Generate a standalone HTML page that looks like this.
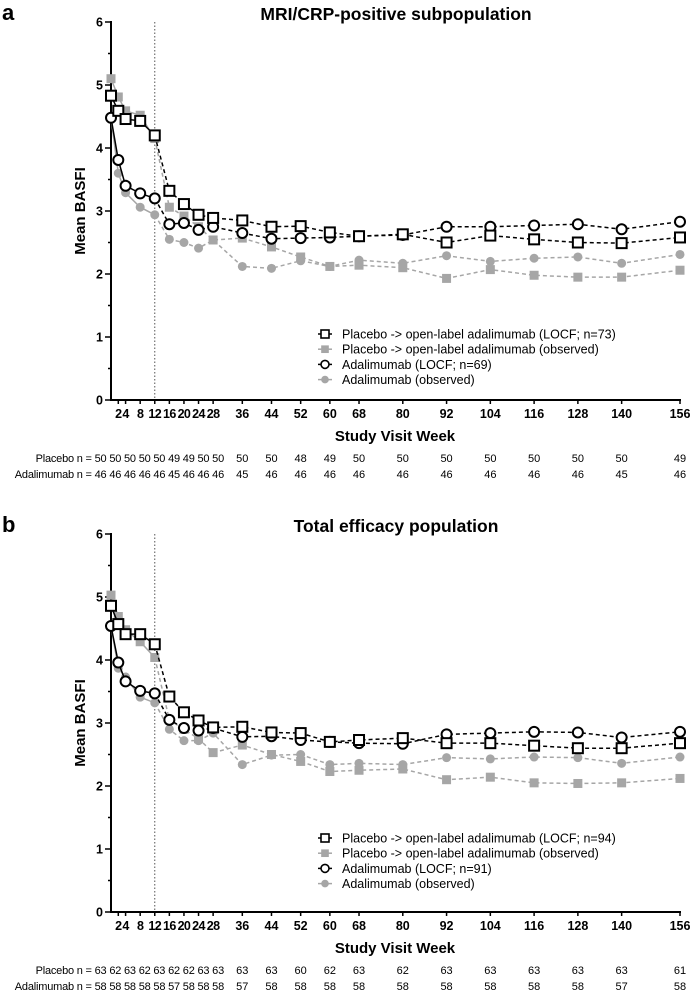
<!DOCTYPE html>
<html><head><meta charset="utf-8">
<style>
html,body{margin:0;padding:0;background:#fff;}
svg{display:block;font-family:"Liberation Sans",Arial,sans-serif;}
</style></head>
<body>
<svg id="chart" width="692" height="992" viewBox="0 0 692 992" xmlns="http://www.w3.org/2000/svg"></svg>
<script>
const weeks = [0,2,4,8,12,16,20,24,28,36,44,52,60,68,80,92,104,116,128,140,156];
const tickLabels = ["2","4","8","12","16","20","24","28","36","44","52","60","68","80","92","104","116","128","140","156"];
const tickWeeks = [2,4,8,12,16,20,24,28,36,44,52,60,68,80,92,104,116,128,140,156];
const yTicks = [0,1,2,3,4,5,6];

// Panel a
const aPlaceboLocf = [4.83,4.59,4.46,4.43,4.2,3.32,3.11,2.94,2.89,2.85,2.75,2.76,2.66,2.6,2.63,2.5,2.61,2.55,2.5,2.49,2.58];
const aPlaceboObs = [5.1,4.81,4.59,4.52,4.15,3.06,2.92,2.75,2.54,2.57,2.43,2.27,2.12,2.14,2.1,1.93,2.07,1.98,1.95,1.95,2.06];
const aAdaLocf = [4.48,3.81,3.4,3.28,3.2,2.79,2.81,2.7,2.75,2.65,2.56,2.57,2.58,2.6,2.62,2.75,2.75,2.77,2.79,2.71,2.83];
const aAdaObs = [4.48,3.6,3.29,3.06,2.94,2.55,2.5,2.41,2.54,2.12,2.09,2.21,2.12,2.22,2.17,2.29,2.2,2.25,2.27,2.17,2.31];
const aPlaceboN = [50,50,50,50,50,49,49,50,50,50,50,48,49,50,50,50,50,50,50,50,49];
const aAdaN = [46,46,46,46,46,45,46,46,46,45,46,46,46,46,46,46,46,46,46,45,46];

// Panel b
const bPlaceboLocf = [4.86,4.57,4.41,4.41,4.25,3.42,3.17,3.04,2.93,2.94,2.85,2.84,2.7,2.73,2.76,2.68,2.68,2.64,2.6,2.6,2.68];
const bPlaceboObs = [5.03,4.69,4.48,4.29,4.04,3.05,2.9,2.75,2.53,2.65,2.5,2.39,2.23,2.25,2.27,2.1,2.14,2.05,2.04,2.05,2.12];
const bAdaLocf = [4.54,3.96,3.66,3.51,3.47,3.05,2.92,2.88,2.92,2.78,2.79,2.73,2.7,2.68,2.67,2.82,2.84,2.86,2.85,2.77,2.86];
const bAdaObs = [4.54,3.87,3.73,3.41,3.32,2.9,2.72,2.72,2.84,2.34,2.49,2.5,2.34,2.36,2.34,2.45,2.43,2.46,2.45,2.36,2.46];
const bPlaceboN = [63,62,63,62,63,62,62,63,63,63,63,60,62,63,62,63,63,63,63,63,61];
const bAdaN = [58,58,58,58,58,57,58,58,58,57,58,58,58,58,58,58,58,58,58,57,58];

const NS = "http://www.w3.org/2000/svg";
const svg = document.getElementById('chart');
const GRAY = "#a6a6a6";
function mk(tag, attrs, parent, text){
  const e = document.createElementNS(NS, tag);
  for (const k in attrs) e.setAttribute(k, attrs[k]);
  if (text !== undefined) e.textContent = text;
  (parent || svg).appendChild(e);
  return e;
}
const xScale = w => 111 + w * (569 / 156);

function drawMarker(g, type, x, y){
  let m;
  if (type === 'sq') m = mk('rect',{x:x-5,y:y-5,width:10,height:10,fill:'#fff',stroke:'#000','stroke-width':2},g);
  else if (type === 'gsq') m = mk('rect',{x:x-4.5,y:y-4.5,width:9,height:9,fill:GRAY},g);
  else if (type === 'ci') m = mk('circle',{cx:x,cy:y,r:5,fill:'#fff',stroke:'#000','stroke-width':2},g);
  else m = mk('circle',{cx:x,cy:y,r:4.5,fill:GRAY},g);
  return m;
}

function drawPanel(cfg){
  const y0 = cfg.y0, unit = 63;
  const yScale = v => y0 - v * unit;
  const g = mk('g',{});
  
  

  const lbl = mk('text',{x:2,y:y0-380,'font-size':22,'font-weight':'bold'},g,cfg.letter);
  
  
  const tt = mk('text',{x:396,y:y0-380,'font-size':17.5,'font-weight':'bold','text-anchor':'middle'},g,cfg.title);
  
  

  const dl = mk('line',{x1:xScale(12),x2:xScale(12),y1:yScale(6),y2:y0,stroke:'#555','stroke-width':1,'stroke-dasharray':'1.5,2'},g);
  
  

  const ya = mk('g',{},g);
  
  
  mk('line',{x1:111,x2:111,y1:yScale(6)-1,y2:y0+1,stroke:'#000','stroke-width':2},ya);
  for (let v=0; v<=6; v+=0.5){
    const major = Number.isInteger(v);
    mk('line',{x1:major?105:108,x2:111,y1:yScale(v),y2:yScale(v),stroke:'#000','stroke-width':1.5},ya);
  }
  yTicks.forEach(v=>{
    const t = mk('text',{x:103,y:yScale(v)+4.5,'font-size':12.5,'font-weight':'bold','text-anchor':'end'},ya,String(v));
    
    
  });
  const yt = mk('text',{transform:`translate(85,${yScale(3)}) rotate(-90)`,'font-size':15,'font-weight':'bold','text-anchor':'middle'},g,'Mean BASFI');
  
  

  const xa = mk('g',{},g);
  
  
  mk('line',{x1:110,x2:xScale(156)+1,y1:y0,y2:y0,stroke:'#000','stroke-width':2},xa);
  tickWeeks.forEach((w,i)=>{
    mk('line',{x1:xScale(w),x2:xScale(w),y1:y0,y2:y0+4,stroke:'#000','stroke-width':1.5},xa);
    const t = mk('text',{x:xScale(w),y:y0+18,'font-size':12.5,'font-weight':'bold','text-anchor':'middle','letter-spacing':w<36?'-0.6':'0'},xa,tickLabels[i]);
    
    
  });
  const xt = mk('text',{x:395,y:y0+41,'font-size':15,'font-weight':'bold','text-anchor':'middle'},g,'Study Visit Week');
  
  

  const series = [
    {d:cfg.pObs, m:'gsq', c:GRAY, name:'series-placebo-observed'},
    {d:cfg.aObs, m:'gci', c:GRAY, name:'series-adalimumab-observed'},
    {d:cfg.aLocf, m:'ci', c:'#000', name:'series-adalimumab-locf'},
    {d:cfg.pLocf, m:'sq', c:'#000', name:'series-placebo-locf'}
  ];
  series.forEach(s=>{
    const sg = mk('g',{},g);
    
    
    let solid = '', dash = '';
    weeks.forEach((w,i)=>{
      const x = xScale(w), y = yScale(s.d[i]);
      if (w <= 12) solid += (solid ? 'L' : 'M') + x + ',' + y;
      if (w >= 12) dash += (dash ? 'L' : 'M') + x + ',' + y;
    });
    mk('path',{d:solid,fill:'none',stroke:s.c,'stroke-width':1.5},sg);
    mk('path',{d:dash,fill:'none',stroke:s.c,'stroke-width':1.5,'stroke-dasharray':'4,3'},sg);
    weeks.forEach((w,i)=>{
      const m = drawMarker(sg, s.m, xScale(w), yScale(s.d[i]));
      
      
    });
  });

  const lg = mk('g',{},g);
  
  
  const items = [
    {m:'sq',c:'#000',t:cfg.leg[0]},
    {m:'gsq',c:GRAY,t:'Placebo -> open-label adalimumab (observed)'},
    {m:'ci',c:'#000',t:cfg.leg[1]},
    {m:'gci',c:GRAY,t:'Adalimumab (observed)'}
  ];
  items.forEach((it,i)=>{
    const ly = cfg.legY + i*15.2;
    const eg = mk('g',{},lg);
    
    
    mk('line',{x1:318,x2:332,y1:ly,y2:ly,stroke:it.c,'stroke-width':1.5},eg);
    const mm = drawMarker(eg, it.m, 325, ly);
    if (it.m==='sq'||it.m==='ci'){ mm.setAttribute('transform',`translate(325,${ly}) scale(0.8) translate(-325,${-ly})`); }
    else { mm.setAttribute('transform',`translate(325,${ly}) scale(0.85) translate(-325,${-ly})`); }
    mk('text',{x:342,y:ly+4.5,'font-size':12.5},eg,it.t);
  });

  const rows = [{lab:'Placebo n = ',n:cfg.pN,dy:58,name:'placebo-n-row'},{lab:'Adalimumab n = ',n:cfg.aN,dy:74,name:'adalimumab-n-row'}];
  rows.forEach(r=>{
    const rg = mk('g',{},g);
    
    
    const early = r.n.slice(0,9).join(' ');
    mk('text',{x:224,y:y0+r.dy+4,'font-size':11,'text-anchor':'end','letter-spacing':'-0.2'},rg,r.lab+early);
    weeks.forEach((w,i)=>{
      if (i<9) return;
      mk('text',{x:xScale(w),y:y0+r.dy+4,'font-size':11,'text-anchor':'middle'},rg,String(r.n[i]));
    });
  });
}

drawPanel({name:'panel-a',letter:'a',title:'MRI/CRP-positive subpopulation',y0:400,
  pLocf:aPlaceboLocf,pObs:aPlaceboObs,aLocf:aAdaLocf,aObs:aAdaObs,pN:aPlaceboN,aN:aAdaN,
  legY:334,leg:['Placebo -> open-label adalimumab (LOCF; n=73)','Adalimumab (LOCF; n=69)']});
drawPanel({name:'panel-b',letter:'b',title:'Total efficacy population',y0:912,
  pLocf:bPlaceboLocf,pObs:bPlaceboObs,aLocf:bAdaLocf,aObs:bAdaObs,pN:bPlaceboN,aN:bAdaN,
  legY:838,leg:['Placebo -> open-label adalimumab (LOCF; n=94)','Adalimumab (LOCF; n=91)']});
</script>
</body></html>
